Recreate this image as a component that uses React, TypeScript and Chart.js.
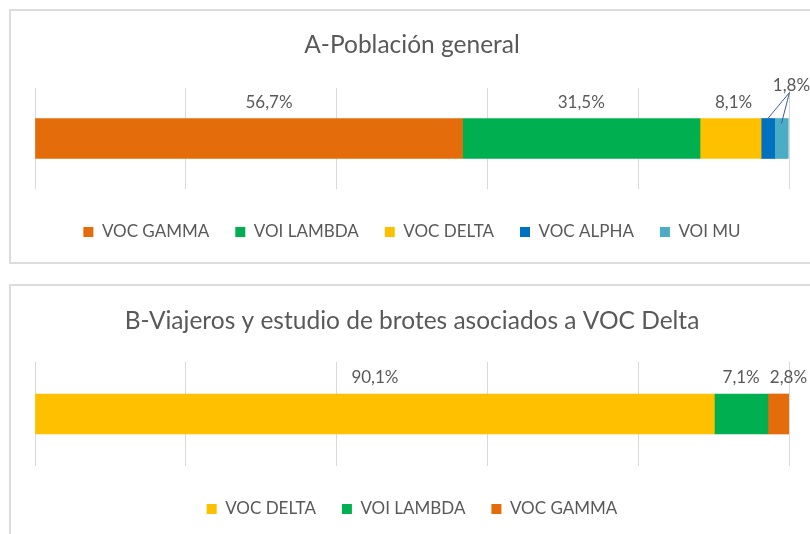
import React, { useEffect, useRef } from 'react';
import { Chart, registerables } from 'chart.js';

Chart.register(...registerables);

// Panel A - Población general
const titleA = 'A-Población general';
const variantsA = ['VOC GAMMA', 'VOI LAMBDA', 'VOC DELTA', 'VOC ALPHA', 'VOI MU'];
const valuesA = [56.7, 31.5, 8.1, 1.8, 1.8];
const textsA = ['56,7%', '31,5%', '8,1%', '', '1,8%'];

// Panel B - Viajeros y estudio de brotes
const titleB = 'B-Viajeros y estudio de brotes asociados a VOC Delta';
const variantsB = ['VOC DELTA', 'VOI LAMBDA', 'VOC GAMMA'];
const valuesB = [90.1, 7.1, 2.8];
const textsB = ['90,1%', '7,1%', '2,8%'];

const xTicks = [0, 20, 40, 60, 80, 100];

// styles
const palette: Record<string, string> = {
  'VOC GAMMA': '#E46C0A',
  'VOI LAMBDA': '#00B050',
  'VOC DELTA': '#FFC000',
  'VOC ALPHA': '#0070C0',
  'VOI MU': '#4BACC6',
};
const shiftsA = [20, 0, 3, 0, 10];
const shiftsB = [0, 0, 10];
const TEXT = '#595959';
const GRID = '#d9d9d9';
const LEGEND_PAD = 26;
const LEGEND_FONT = 17;

type Callout = { index: number; targets: number[]; depth: number[]; rise: number } | null;

function makeLabelPlugin(texts: string[], shifts: number[], callout: Callout) {
  return {
    id: 'segLabels',
    afterDatasetsDraw(chart: any) {
      const ctx = chart.ctx;
      ctx.save();
      ctx.font = '17px Lato';
      ctx.fillStyle = TEXT;
      ctx.textAlign = 'center';
      ctx.textBaseline = 'middle';
      const seg = (i: number) => {
        const el = chart.getDatasetMeta(i).data[0];
        const p = el.getProps(['x', 'y', 'base', 'height'], true);
        return { cx: (p.x + p.base) / 2, top: p.y - p.height / 2 };
      };
      chart.data.datasets.forEach((_ds: any, i: number) => {
        const t = texts[i];
        if (!t) return;
        const s = seg(i);
        const cx = s.cx + shifts[i];
        if (callout && callout.index === i) {
          const ly = s.top - callout.rise;
          ctx.fillText(t, cx, ly);
          ctx.strokeStyle = '#3d5f95';
          ctx.lineWidth = 1;
          callout.targets.forEach((ti, k) => {
            const ts = seg(ti);
            ctx.beginPath();
            ctx.moveTo(cx - 2, ly + 7);
            ctx.lineTo(ts.cx, ts.top + callout.depth[k]);
            ctx.stroke();
          });
        } else {
          ctx.fillText(t, cx, s.top - 16);
        }
      });
      ctx.restore();
    },
  };
}

type PanelProps = {
  top: number;
  height: number;
  title: string;
  names: string[];
  values: number[];
  texts: string[];
  shifts: number[];
  callout: Callout;
  titlePadTop: number;
  titlePadBottom: number;
  legendPadBottom: number;
};

function BarPanel(props: PanelProps) {
  const ref = useRef<HTMLCanvasElement | null>(null);
  useEffect(() => {
    if (!ref.current) return;
    const chart = new Chart(ref.current, {
      type: 'bar',
      data: {
        labels: [''],
        datasets: props.names.map((n, i) => ({
          label: n,
          data: [props.values[i]],
          backgroundColor: palette[n],
          borderWidth: 0,
          barThickness: 40,
        })),
      },
      options: {
        indexAxis: 'y',
        responsive: false,
        animation: false,
        layout: { padding: { left: 35, right: 21, top: 0, bottom: props.legendPadBottom } },
        scales: {
          x: {
            stacked: true,
            min: 0,
            max: 100,
            afterBuildTicks: (s: any) => {
              s.ticks = xTicks.map((v) => ({ value: v }));
            },
            afterFit: (s: any) => {
              s.height = 34.5 - LEGEND_PAD;
            },
            ticks: { display: false },
            grid: { display: true, color: GRID, lineWidth: 1, drawTicks: false },
            border: { display: false },
          },
          y: { stacked: true, display: false },
        },
        plugins: {
          title: {
            display: true,
            text: props.title,
            color: TEXT,
            font: { family: 'Lato', size: 24.5, weight: 'normal', lineHeight: 1.2 },
            padding: { top: props.titlePadTop, bottom: props.titlePadBottom },
          },
          legend: {
            position: 'bottom',
            labels: {
              boxWidth: 10,
              boxHeight: 10,
              padding: LEGEND_PAD,
              color: TEXT,
              font: { family: 'Lato', size: LEGEND_FONT },
            },
          },
          tooltip: { enabled: false },
        },
      },
      plugins: [makeLabelPlugin(props.texts, props.shifts, props.callout)],
    } as any);
    return () => chart.destroy();
  }, []);
  return (
    <canvas
      ref={ref}
      width={810}
      height={props.height}
      style={{ position: 'absolute', left: 0, top: props.top, width: 810, height: props.height }}
    />
  );
}

export default function App() {
  return (
    <div
      style={{
        position: 'absolute',
        left: 0,
        top: 0,
        width: 810,
        height: 534,
        overflow: 'hidden',
        background: '#ffffff',
      }}
    >
      <div
        style={{
          position: 'absolute',
          left: 9,
          top: 9,
          width: 830,
          height: 255,
          border: '2px solid #dcdcdc',
          boxSizing: 'border-box',
        }}
      />
      <div
        style={{
          position: 'absolute',
          left: 9,
          top: 284,
          width: 830,
          height: 300,
          border: '2px solid #dcdcdc',
          boxSizing: 'border-box',
        }}
      />
      <BarPanel
        top={0}
        height={264}
        title={titleA}
        names={variantsA}
        values={valuesA}
        texts={textsA}
        shifts={shiftsA}
        callout={{ index: 4, targets: [3, 4], depth: [0, 5], rise: 33 }}
        titlePadTop={30.3}
        titlePadBottom={28.3}
        legendPadBottom={13.5}
      />
      <BarPanel
        top={286}
        height={248}
        title={titleB}
        names={variantsB}
        values={valuesB}
        texts={textsB}
        shifts={shiftsB}
        callout={null}
        titlePadTop={20.3}
        titlePadBottom={26.3}
        legendPadBottom={6.5}
      />
    </div>
  );
}
